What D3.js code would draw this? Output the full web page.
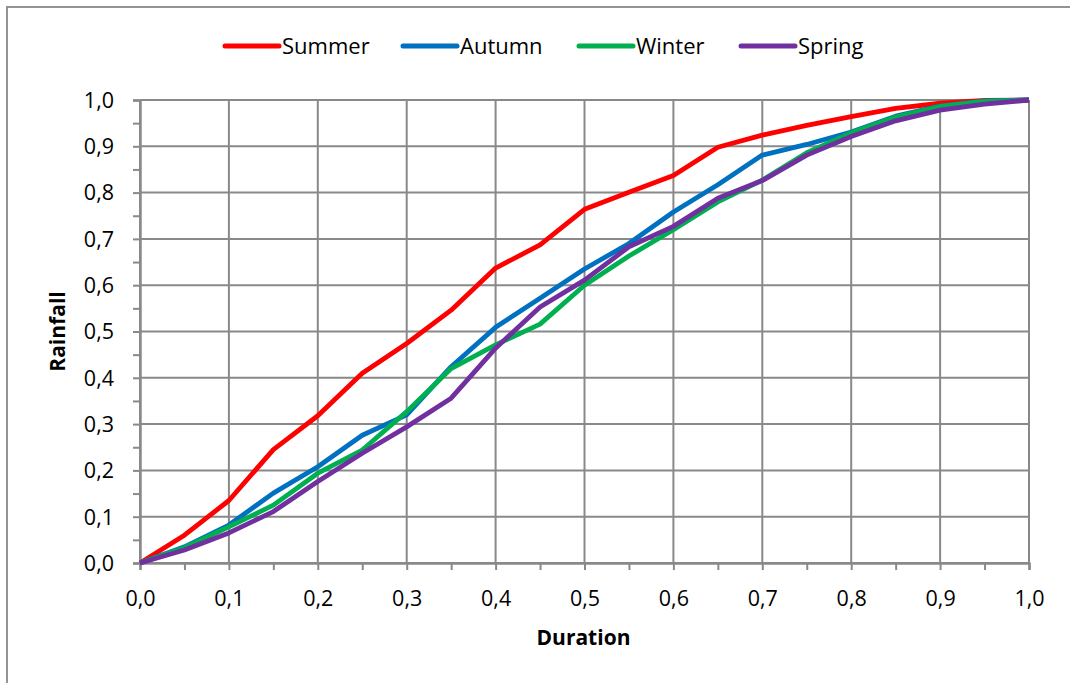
<!DOCTYPE html>
<html>
<head>
<meta charset="utf-8">
<script src="https://cdn.jsdelivr.net/npm/d3@7/dist/d3.min.js"></script>
<style>
  html, body { margin: 0; padding: 0; background: #fff; }
  svg { display: block; font-family: "Open Sans", "Noto Sans", sans-serif; }
</style>
</head>
<body>
<svg id="chart" width="1070" height="683"></svg>
<script>
const durations = [0, 0.05, 0.1, 0.15, 0.2, 0.25, 0.3, 0.35, 0.4, 0.45, 0.5, 0.55, 0.6, 0.65, 0.7, 0.75, 0.8, 0.85, 0.9, 0.95, 1.0];
const summer = [0, 0.06, 0.135, 0.245, 0.318, 0.41, 0.474, 0.546, 0.637, 0.687, 0.764, 0.801, 0.837, 0.898, 0.924, 0.945, 0.964, 0.982, 0.993, 0.999, 1.0];
const autumn = [0, 0.035, 0.082, 0.151, 0.208, 0.276, 0.32, 0.424, 0.509, 0.572, 0.635, 0.69, 0.758, 0.817, 0.881, 0.904, 0.931, 0.965, 0.987, 0.998, 1.0];
const winter = [0, 0.033, 0.078, 0.125, 0.194, 0.244, 0.327, 0.42, 0.471, 0.516, 0.6, 0.663, 0.72, 0.78, 0.827, 0.886, 0.929, 0.963, 0.986, 0.997, 1.0];
const spring = [0, 0.028, 0.065, 0.111, 0.176, 0.237, 0.294, 0.356, 0.464, 0.553, 0.611, 0.683, 0.727, 0.788, 0.826, 0.881, 0.921, 0.955, 0.978, 0.991, 1.0];
const seriesNames = ["Summer", "Autumn", "Winter", "Spring"];
const seriesColors = ["#FF0000", "#0070C0", "#00B050", "#7030A0"];
const seriesValues = [summer, autumn, winter, spring];
const majorTicks = [0, 0.1, 0.2, 0.3, 0.4, 0.5, 0.6, 0.7, 0.8, 0.9, 1.0];
const minorTicks = [0.05, 0.15, 0.25, 0.35, 0.45, 0.55, 0.65, 0.75, 0.85, 0.95];
const xTitle = "Duration";
const yTitle = "Rainfall";

const svg = d3.select("#chart");
const L = 140, R = 1029, T = 100, B = 563;
const gridColor = "#898989";
const fmt = d => d3.format(".1f")(d).replace(".", ",");

const x = d3.scaleLinear().domain([0, 1]).range([L, R]);
const y = d3.scaleLinear().domain([0, 1]).range([B, T]);

// outer frame
svg.append("rect").attr("x", 7).attr("y", 7).attr("width", 1200).attr("height", 1000)
  .attr("fill", "none").attr("stroke", gridColor).attr("stroke-width", 1.8);

// gridlines
const grid = svg.append("g");
grid.selectAll(".hg").data(majorTicks).join("line")
  .attr("x1", L).attr("x2", R).attr("y1", d => y(d)).attr("y2", d => y(d))
  .attr("stroke", gridColor).attr("stroke-width", 2);
grid.selectAll(".vg").data(majorTicks).join("line")
  .attr("y1", T).attr("y2", B).attr("x1", d => x(d)).attr("x2", d => x(d))
  .attr("stroke", gridColor).attr("stroke-width", 2);

// axes
const xAxis = svg.append("g").attr("transform", `translate(0,${B})`)
  .call(d3.axisBottom(x).tickValues(majorTicks).tickFormat(fmt).tickSize(7).tickPadding(21));
const xMinor = svg.append("g").attr("transform", `translate(0,${B})`)
  .call(d3.axisBottom(x).tickValues(minorTicks).tickFormat("").tickSize(7));
const yAxis = svg.append("g").attr("transform", `translate(${L},0)`)
  .call(d3.axisLeft(y).tickValues(majorTicks).tickFormat(fmt).tickSize(7).tickPadding(19));
const yMinor = svg.append("g").attr("transform", `translate(${L},0)`)
  .call(d3.axisLeft(y).tickValues(minorTicks).tickFormat("").tickSize(7));
[xAxis, xMinor, yAxis, yMinor].forEach(g => {
  g.select(".domain").attr("stroke", gridColor).attr("stroke-width", 2);
  g.selectAll(".tick line").attr("stroke", gridColor).attr("stroke-width", 2);
  g.selectAll(".tick text").attr("font-size", 21.5).attr("fill", "#000")
    .attr("font-family", "'Open Sans', sans-serif");
});
yAxis.selectAll(".tick text").attr("dy", "0.34em");

// axis titles
svg.append("text").attr("x", (L + R) / 2 - 1).attr("y", 645).attr("text-anchor", "middle")
  .attr("font-size", 21).attr("font-weight", "bold").text(xTitle);
svg.append("text").attr("transform", `translate(65,${(T + B) / 2}) rotate(-90)`)
  .attr("text-anchor", "middle").attr("font-size", 21).attr("font-weight", "bold").text(yTitle);

// lines
const line = d3.line().x((d, i) => x(durations[i])).y(d => y(d));
seriesValues.forEach((vals, k) => {
  svg.append("path").datum(vals).attr("d", line)
    .attr("fill", "none").attr("stroke", seriesColors[k]).attr("stroke-width", 4.8)
    .attr("stroke-linejoin", "round");
});

// legend
const legendX = [225, 403, 579, 741];
const leg = svg.append("g");
seriesNames.forEach((name, k) => {
  leg.append("line").attr("x1", legendX[k]).attr("x2", legendX[k] + 54)
    .attr("y1", 46).attr("y2", 46).attr("stroke", seriesColors[k]).attr("stroke-width", 5)
    .attr("stroke-linecap", "round");
  leg.append("text").attr("x", legendX[k] + 57).attr("y", 46).attr("dy", "0.35em")
    .attr("font-size", 22).text(name);
});
</script>
</body>
</html>
